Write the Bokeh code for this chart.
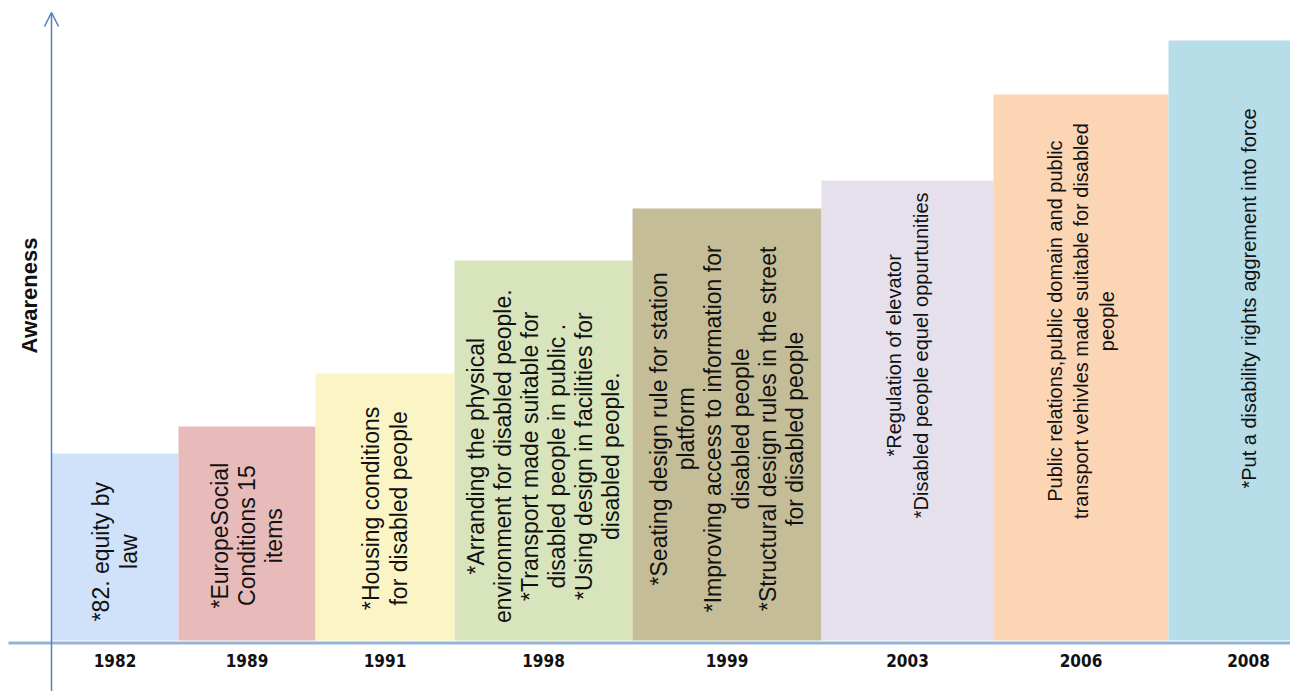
import math
from bokeh.plotting import figure
from bokeh.models import Range1d, Arrow, OpenHead, ColumnDataSource
from bokeh.core.properties import value
from bokeh.embed import file_html
from bokeh.resources import INLINE

# ---- data ----
years = ["1982", "1989", "1991", "1998", "1999", "2003", "2006", "2008"]
period_start = [0, 127, 264, 403, 581, 770, 942, 1117]
period_end = [127, 264, 403, 581, 770, 942, 1117, 1277]
awareness = [187, 214, 267, 380, 432, 460, 546, 600]
events = [
    "*82. equity by\nlaw",
    "*EuropeSocial\nConditions 15\nitems",
    "*Housing conditions\nfor disabled people",
    "*Arranding the physical\nenvironment for disabled people.\n*Transport made suitable for\ndisabled people in public .\n*Using design in facilities for\ndisabled people.",
    "*Seating design rule for station\nplatform\n*Improving access to information for\ndisabled people\n*Structural design rules in the street\nfor disabled people",
    "*Regulation of elevator\n*Disabled people equel oppurtunities",
    "Public relations,public domain and public\ntransport vehivles made suitable for disabled\npeople",
    "*Put a disability rights aggrement into force",
]

# ---- styles / layout ----
colors = ["#cfe2f9", "#e8bbbb", "#fbf5c6", "#d8e4bc", "#c4bd97", "#e5e0ec", "#fcd5b5", "#b7dde8"]
text_frac = [0.475, 0.49, 0.495, 0.485, 0.49, 0.62, 0.585, 0.57]

centers = [(a + b) / 2 for a, b in zip(period_start, period_end)]
label_y = [h * f for h, f in zip(awareness, text_frac)]

src = ColumnDataSource(dict(
    left=period_start, right=period_end, top=awareness, bottom=[0] * len(years),
    color=colors, cx=centers, ty=label_y, txt=events, year=years,
    yy=[-20] * len(years),
))
n_big = 5
src_a = ColumnDataSource(dict(cx=centers[:n_big], ty=label_y[:n_big], txt=events[:n_big]))
src_b = ColumnDataSource(dict(cx=centers[n_big:], ty=label_y[n_big:], txt=events[n_big:]))

p = figure(width=1290, height=691, output_backend="svg", toolbar_location=None,
           x_range=Range1d(-51, 1239), y_range=Range1d(-51, 640),
           min_border=0, min_border_left=0, min_border_right=0,
           min_border_top=0, min_border_bottom=0)
p.axis.visible = False
p.grid.visible = False
p.outline_line_color = None
p.background_fill_color = "white"

p.quad(left="left", right="right", top="top", bottom="bottom", fill_color="color",
       line_color=None, source=src)

p.text(x="cx", y="ty", text="txt", source=src_a, angle=math.pi / 2,
       text_align="center", text_baseline="middle",
       text_font=value("Liberation Sans"), text_font_size="23px",
       text_line_height=1.04, text_color="#111111")
p.text(x="cx", y="ty", text="txt", source=src_b, angle=math.pi / 2,
       text_align="center", text_baseline="middle",
       text_font=value("Liberation Sans"), text_font_size="20px",
       text_line_height=1.2, text_color="#111111")

p.text(x="cx", y="yy", text="year", source=src,
       text_align="center", text_baseline="middle",
       text_font=value("Liberation Sans Narrow, DejaVu Sans Condensed, sans-serif"),
       text_font_style="bold", text_font_size="17px", text_color="#111111")

# x axis line
p.segment(x0=[-43], y0=[-2.5], x1=[1239], y1=[-2.5], line_color="#95b3d7", line_width=3)
# y axis with arrow
p.add_layout(Arrow(end=OpenHead(size=14, line_color="#4f81bd", line_width=1.5),
                   x_start=0, y_start=-51, x_end=0, y_end=628,
                   line_color="#4f81bd", line_width=1.5))

p.text(x=[-22], y=[345], text=["Awareness"], angle=math.pi / 2,
       text_align="center", text_baseline="middle",
       text_font=value("Liberation Sans"), text_font_style="bold",
       text_font_size="22px", text_color="#111111")

open("out.html", "w").write(file_html(p, INLINE))
